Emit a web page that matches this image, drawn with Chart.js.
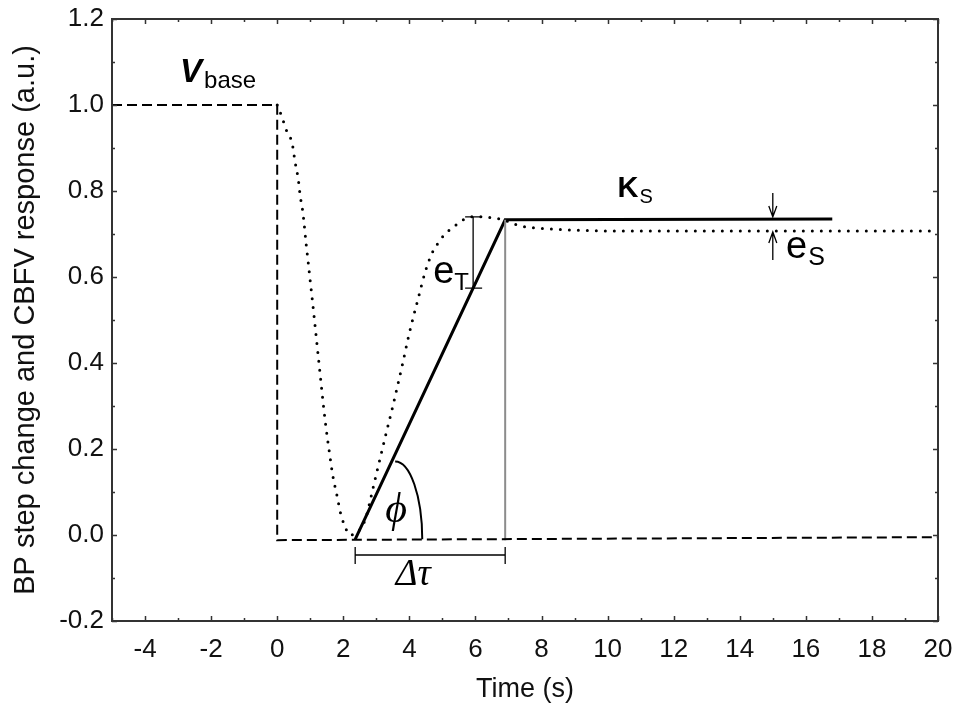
<!DOCTYPE html>
<html>
<head>
<meta charset="utf-8">
<script src="https://cdn.jsdelivr.net/npm/chart.js@4.4.1/dist/chart.umd.min.js"></script>
<style>
html,body{margin:0;padding:0;background:#fff;}
canvas{display:block;}
</style>
</head>
<body>
<canvas id="c" width="966" height="706"></canvas>
<script>
// ---- data ----
const xTickValues = [-4, -2, 0, 2, 4, 6, 8, 10, 12, 14, 16, 18, 20];
const xTickLabels = ["-4", "-2", "0", "2", "4", "6", "8", "10", "12", "14", "16", "18", "20"];
const yTickValues = [-0.2, 0, 0.2, 0.4, 0.6, 0.8, 1.0, 1.2];
const yTickLabels = ["-0.2", "0.0", "0.2", "0.4", "0.6", "0.8", "1.0", "1.2"];

// BP step change (dashed)
const stepTime = [-5, 0, 0, 20];
const stepValue = [1.0, 1.0, -0.012, -0.005];

// CBFV response (dotted)
const respTime = [0, 0.12, 0.3, 0.45, 0.54, 0.64, 0.7, 0.76, 0.8, 0.88, 0.94, 1.0, 1.06, 1.25, 1.45, 1.6, 1.69, 1.82, 1.91, 2.05, 2.2, 2.4, 2.66, 2.91, 3.03, 3.27, 3.5, 3.8, 4.0, 4.27, 4.48, 4.69, 4.87, 5.08, 5.33, 5.63, 5.93, 6.23, 6.54, 6.84, 7.26, 7.57, 8.17, 9, 10, 20];
const respValue = [1.0, 0.977, 0.937, 0.912, 0.868, 0.826, 0.786, 0.76, 0.735, 0.674, 0.633, 0.59, 0.549, 0.41, 0.267, 0.181, 0.135, 0.088, 0.053, 0.02, 0.0, 0.005, 0.035, 0.112, 0.151, 0.228, 0.3, 0.4, 0.47, 0.551, 0.612, 0.656, 0.679, 0.7, 0.716, 0.733, 0.74, 0.74, 0.737, 0.733, 0.721, 0.716, 0.712, 0.709, 0.707, 0.707];

// Fitted ramp + steady state (solid)
const fitTime = [2.36, 6.9, 16.8];
const fitValue = [-0.01, 0.733, 0.735];

// Delay marker (gray vertical)
const delayTime = [6.9, 6.9];
const delayValue = [0.733, -0.012];

// Annotation anchors (data units)
const dTauStart = 2.36, dTauEnd = 6.9, dTauLevel = -0.0465;
const eTTime = 5.93, eTTop = 0.74, eTBottom = 0.574;
const eSTime = 15.0, eSUpper = 0.735, eSLower = 0.707;
const phiCenterT = 3.57, phiCenterV = -0.01, phiRadiusT = 0.82, phiRadiusV = 0.181;

const zip = (xs, ys) => xs.map((x, i) => ({x, y: ys[i]}));

const FONT = "'Liberation Sans', Arial, sans-serif";
const SERIF = "'Liberation Serif', 'Times New Roman', serif";

const framePlugin = {
  id: 'frame',
  afterDraw(chart) {
    const {ctx, chartArea: a, scales: {x, y}} = chart;
    ctx.save();
    ctx.strokeStyle = '#333';
    ctx.lineWidth = 1.5;
    ctx.beginPath();
    for (let v = -5; v <= 20; v += 1) {
      const X = Math.round(x.getPixelForValue(v)) + 0.5;
      const L = (Math.abs(v) % 2 === 0) ? 5 : 3;
      ctx.moveTo(X, a.bottom); ctx.lineTo(X, a.bottom - L);
      ctx.moveTo(X, a.top); ctx.lineTo(X, a.top + L);
    }
    for (let i = -2; i <= 12; i++) {
      const Y = Math.round(y.getPixelForValue(i / 10)) + 0.5;
      const L = (Math.abs(i) % 2 === 0) ? 5 : 3;
      ctx.moveTo(a.left, Y); ctx.lineTo(a.left + L, Y);
      ctx.moveTo(a.right, Y); ctx.lineTo(a.right - L, Y);
    }
    ctx.stroke();
    ctx.lineWidth = 2;
    ctx.strokeRect(a.left, a.top, a.right - a.left, a.bottom - a.top);
    ctx.restore();
  }
};

function subText(ctx, main, mainFont, sub, subFont, x, y, subDy, gap) {
  ctx.font = mainFont;
  ctx.fillText(main, x, y);
  const w = ctx.measureText(main).width;
  ctx.font = subFont;
  ctx.fillText(sub, x + w + gap, y + subDy);
}

const annotPlugin = {
  id: 'annot',
  afterDatasetsDraw(chart) {
    const {ctx, scales: {x, y}} = chart;
    const px = v => x.getPixelForValue(v);
    const py = v => y.getPixelForValue(v);
    ctx.save();
    ctx.strokeStyle = '#000';
    ctx.fillStyle = '#000';
    ctx.lineCap = 'butt';

    // Delta tau bracket
    ctx.lineWidth = 1.3;
    ctx.beginPath();
    const yb = py(dTauLevel);
    ctx.moveTo(px(dTauStart), yb); ctx.lineTo(px(dTauEnd), yb);
    ctx.moveTo(px(dTauStart), yb - 8); ctx.lineTo(px(dTauStart), yb + 9);
    ctx.moveTo(px(dTauEnd), yb - 8); ctx.lineTo(px(dTauEnd), yb + 9);
    ctx.stroke();

    // e_T bracket
    ctx.beginPath();
    const xe = px(eTTime);
    ctx.moveTo(xe, py(eTTop)); ctx.lineTo(xe, py(eTBottom));
    ctx.moveTo(xe - 8, py(eTTop)); ctx.lineTo(xe + 9, py(eTTop));
    ctx.moveTo(xe - 8, py(eTBottom)); ctx.lineTo(xe + 9, py(eTBottom));
    ctx.stroke();

    // e_S arrows
    const xs = px(eSTime);
    const yu = py(eSUpper), yl = py(eSLower);
    ctx.beginPath();
    ctx.moveTo(xs, yu - 26); ctx.lineTo(xs, yu - 2);
    ctx.moveTo(xs - 4, yu - 13); ctx.lineTo(xs, yu - 2); ctx.lineTo(xs + 4, yu - 13);
    ctx.moveTo(xs, yl + 29); ctx.lineTo(xs, yl + 1);
    ctx.moveTo(xs - 4, yl + 12); ctx.lineTo(xs, yl + 1); ctx.lineTo(xs + 4, yl + 12);
    ctx.stroke();

    // phi arc
    ctx.lineWidth = 2;
    ctx.beginPath();
    ctx.ellipse(px(phiCenterT), py(phiCenterV), px(phiCenterT + phiRadiusT) - px(phiCenterT),
      py(phiCenterV) - py(phiCenterV + phiRadiusV), 0, -Math.PI / 2, 0);
    ctx.stroke();

    // texts
    ctx.textBaseline = 'alphabetic';
    ctx.textAlign = 'left';
    subText(ctx, 'V', "bold italic 33px " + FONT, 'base', "24px " + FONT, px(-2.94), py(1.053), 6, 2);
    subText(ctx, 'K', "bold 29px " + FONT, 'S', "20px " + FONT, px(10.3), py(0.786), 6, 1);
    subText(ctx, 'e', "38px " + FONT, 'S', "25px " + FONT, px(15.4), py(0.644), 7, 1);
    subText(ctx, 'e', "38px " + FONT, 'T', "24px " + FONT, px(4.72), py(0.586), 7, 0);

    ctx.textAlign = 'center';
    ctx.font = "italic 42px " + SERIF;
    ctx.fillText('\u03D5', px(3.6), py(0.03));
    ctx.font = "italic 37px " + SERIF;
    ctx.fillText('\u0394\u03C4', px(4.12), py(-0.117));
    ctx.restore();
  }
};

new Chart(document.getElementById('c'), {
  type: 'line',
  data: {
    datasets: [
      {
        label: 'BP step',
        data: zip(stepTime, stepValue),
        borderColor: '#000',
        borderWidth: 2,
        borderDash: [10, 5],
        pointRadius: 0,
        tension: 0
      },
      {
        label: 'CBFV response',
        data: zip(respTime, respValue),
        borderColor: '#000',
        borderWidth: 3,
        borderDash: [0, 9],
        borderCapStyle: 'round',
        pointRadius: 0,
        cubicInterpolationMode: 'monotone'
      },
      {
        label: 'Delay',
        data: zip(delayTime, delayValue),
        borderColor: '#8c8c8c',
        borderWidth: 2,
        pointRadius: 0,
        tension: 0
      },
      {
        label: 'Fit',
        data: zip(fitTime, fitValue),
        borderColor: '#000',
        borderWidth: 3,
        pointRadius: 0,
        tension: 0
      }
    ]
  },
  options: {
    responsive: false,
    animation: false,
    devicePixelRatio: 1,
    layout: {padding: {top: 19, right: 28, left: 0, bottom: 0}},
    plugins: {legend: {display: false}, tooltip: {enabled: false}},
    scales: {
      x: {
        type: 'linear',
        min: -5, max: 20,
        afterBuildTicks: s => { s.ticks = xTickValues.map(v => ({value: v})); },
        afterFit: s => { s.height = 85; s.paddingLeft = 0; s.paddingRight = 0; },
        grid: {display: false, drawTicks: false},
        border: {display: false},
        ticks: {
          autoSkip: false, maxRotation: 0, padding: 13,
          color: '#111',
          font: {family: FONT, size: 26},
          callback: (v, i) => xTickLabels[i]
        },
        title: {display: true, text: 'Time (s)', color: '#111',
          font: {family: FONT, size: 27}, padding: {top: 0, bottom: 0}}
      },
      y: {
        type: 'linear',
        min: -0.2, max: 1.2,
        afterBuildTicks: s => { s.ticks = yTickValues.map(v => ({value: v})); },
        afterFit: s => { s.width = 112; s.paddingTop = 0; s.paddingBottom = 0; },
        grid: {display: false, drawTicks: false},
        border: {display: false},
        ticks: {
          padding: 8,
          color: '#111',
          font: {family: FONT, size: 26},
          callback: (v, i) => yTickLabels[i]
        },
        title: {display: true, text: 'BP step change and CBFV response (a.u.)', color: '#111',
          font: {family: FONT, size: 29}, padding: {top: 9, bottom: 0}}
      }
    }
  },
  plugins: [framePlugin, annotPlugin]
});
</script>
</body>
</html>
